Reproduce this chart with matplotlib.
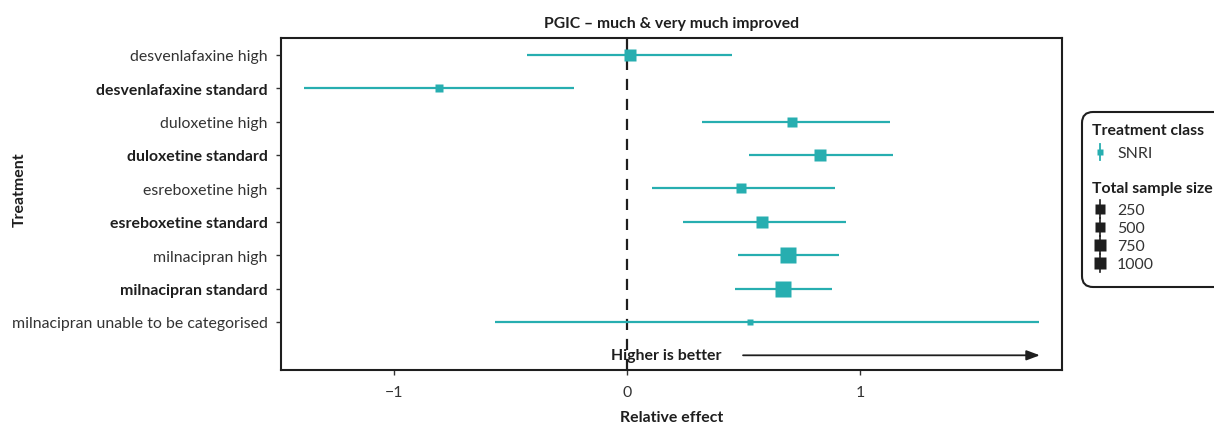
import matplotlib
matplotlib.use("Agg")
import matplotlib.pyplot as plt
from matplotlib.lines import Line2D
from matplotlib.patches import FancyBboxPatch
import numpy as np

plt.rcParams['font.family'] = ['Lato', 'DejaVu Sans']

treatments = [
    "desvenlafaxine high",
    "desvenlafaxine standard",
    "duloxetine high",
    "duloxetine standard",
    "esreboxetine high",
    "esreboxetine standard",
    "milnacipran high",
    "milnacipran standard",
    "milnacipran unable to be categorised",
]
estimate = [0.01, -0.81, 0.707, 0.828, 0.488, 0.579, 0.69, 0.669, 0.527]
lower = [-0.43, -1.387, 0.318, 0.521, 0.105, 0.238, 0.474, 0.461, -0.569]
upper = [0.45, -0.23, 1.127, 1.14, 0.89, 0.939, 0.909, 0.879, 1.767]
sample_size = [560, 250, 470, 660, 470, 660, 950, 1000, 190]
bold_rows = [False, True, False, True, False, True, False, True, False]

size_breaks = [250, 500, 750, 1000]
x_ticks = [-1, 0, 1]
x_tick_labels = ["\u22121", "0", "1"]

teal = "#27AEB0"
ink = "#1e1e1e"
grey_text = "#333333"
DPI = 100
W, H = 1214, 427
FS = 11.4


def side_pts(n):
    # marker side (points) with area proportional to sample size
    return 0.506 * np.sqrt(n) * 72 / DPI


fig = plt.figure(figsize=(W / DPI, H / DPI), dpi=DPI)
ax = fig.add_axes([281 / W, 1 - 371 / H, (1062 - 281) / W, (371 - 39) / H])

ypos = np.arange(1, len(treatments) + 1)

ax.axvline(0, color=ink, lw=1.6, ls=(0, (5, 4)), zorder=1)

for y, e, lo, hi, n in zip(ypos, estimate, lower, upper, sample_size):
    ax.plot([lo, hi], [y, y], color=teal, lw=1.6, solid_capstyle='butt', zorder=2)
    ax.plot([e], [y], marker='s', ms=side_pts(n), color=teal, mec='none', zorder=3)

ax.set_xlim(-1.487, 1.865)
ax.set_ylim(10.44, 0.5)

ax.set_yticks(ypos)
ax.set_yticklabels(treatments, fontsize=FS, color=grey_text)
for lbl, b in zip(ax.get_yticklabels(), bold_rows):
    if b:
        lbl.set_fontweight('bold')
        lbl.set_color(ink)
ax.tick_params(axis='y', length=3.5, width=1, color=grey_text, pad=6)

ax.set_xticks(x_ticks)
ax.set_xticklabels(x_tick_labels, fontsize=FS, color=grey_text)
ax.tick_params(axis='x', length=3.5, width=1, color=grey_text, pad=7)

for sp in ax.spines.values():
    sp.set_linewidth(1.5)
    sp.set_color(ink)

ax.set_title("PGIC \u2013 much & very much improved", fontsize=11.3,
             fontweight='bold', pad=8, color=ink)
ax.set_xlabel("Relative effect", fontsize=FS, fontweight='bold', labelpad=8,
              color=ink)
fig.text(20 / W, 1 - 190 / H, "Treatment", rotation=90, fontsize=FS,
         fontweight='bold', ha='center', va='center', color=ink)

# direction annotation
ax.text(0.165, 10.0, "Higher is better", ha='center', va='center',
        fontsize=FS, fontweight='bold', color=ink)
ax.annotate("", xy=(1.77, 10.0), xytext=(0.496, 10.0),
            arrowprops=dict(arrowstyle='-|>,head_length=0.8,head_width=0.3',
                            color=ink, lw=1.3, shrinkA=0, shrinkB=0))

# legend panel (coordinates in pixels from the top-left corner)
def fx(px):
    return px / W


def fy(py):
    return 1 - py / H


box = FancyBboxPatch((1082 / DPI, (H - 288) / DPI), (1250 - 1082) / DPI, (288 - 113) / DPI,
                     boxstyle="round,pad=0,rounding_size=0.11",
                     transform=fig.dpi_scale_trans, fc='white', ec=ink, lw=1.5)
fig.add_artist(box)

fig.text(fx(1092), fy(131), "Treatment class", fontsize=FS, fontweight='bold',
         va='center', ha='left', color=ink)
fig.add_artist(Line2D([fx(1100), fx(1100)], [fy(145), fy(161)], color=teal, lw=1.3,
                      transform=fig.transFigure))
fig.add_artist(Line2D([fx(1100)], [fy(153)], marker='s', ms=4.3, color=teal, mec='none',
                      transform=fig.transFigure))
fig.text(fx(1117), fy(154), "SNRI", fontsize=FS, va='center', ha='left', color=grey_text)

fig.text(fx(1092), fy(189), "Total sample size", fontsize=FS, fontweight='bold',
         va='center', ha='left', color=ink)
for i, n in enumerate(size_breaks):
    yy = 210 + i * 18
    fig.add_artist(Line2D([fx(1100), fx(1100)], [fy(yy - 9), fy(yy + 9)], color=ink,
                          lw=1.2, transform=fig.transFigure))
    fig.add_artist(Line2D([fx(1100)], [fy(yy)], marker='s',
                          ms=(6.5 + 0.9 * i), color=ink, mec='none',
                          transform=fig.transFigure))
    fig.text(fx(1117), fy(yy + 1), str(n), fontsize=FS, va='center', ha='left',
             color=grey_text)

fig.savefig("out.png", dpi=DPI)
